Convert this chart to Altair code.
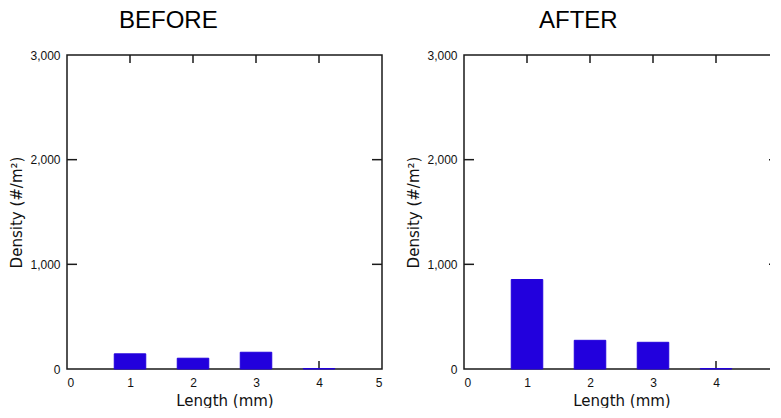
import altair as alt
import pandas as pd

# ---- data ----
lengths = [1, 2, 3, 4]
before_density = [145, 103, 160, 4]
after_density = [855, 274, 255, 4]
panel_titles = ["BEFORE", "AFTER"]
x_tick_values = [0, 1, 2, 3, 4, 5]
x_inner_ticks = [1, 2, 3, 4]
y_tick_values = [0, 1000, 2000, 3000]
y_inner_ticks = [1000, 2000]

W, H = 315, 314
BAR_COLOR = "#2200DD"
LINE_COLOR = "#1a1a1a"
LABEL_FONT = "Liberation Sans"
TITLE_FONT = "DejaVu Sans"

xs = alt.Scale(domain=[0, 5], nice=False, zero=False)
ys = alt.Scale(domain=[0, 3000], nice=False)

x_axis = alt.Axis(
    title="Length (mm)",
    values=x_tick_values,
    format="d",
    tickSize=0,
    domain=False,
    grid=False,
    labelPadding=8,
    titlePadding=5,
    labelFont=LABEL_FONT,
    labelFontSize=12,
    labelColor="#111",
    titleFont=TITLE_FONT,
    titleFontSize=15,
    titleFontWeight="normal",
    titleColor="#111",
)
y_axis = alt.Axis(
    title="Density (#/m²)",
    values=y_tick_values,
    format=",d",
    tickSize=0,
    domain=False,
    grid=False,
    labelPadding=7,
    titlePadding=5,
    labelFont=LABEL_FONT,
    labelFontSize=12,
    labelColor="#111",
    titleFont=TITLE_FONT,
    titleFontSize=15,
    titleFontWeight="normal",
    titleColor="#111",
)


def panel(values, title, dx):
    bars_df = pd.DataFrame({"length": lengths, "density": values})
    xt = pd.DataFrame({"t": x_inner_ticks})
    yt = pd.DataFrame({"t": y_inner_ticks})

    rule = dict(color=LINE_COLOR, strokeWidth=1.5)
    bottom_ticks = alt.Chart(xt).mark_rule(**rule).encode(
        x=alt.X("t:Q", scale=xs, axis=x_axis), y=alt.value(H - 8), y2=alt.value(H)
    )
    top_ticks = alt.Chart(xt).mark_rule(**rule).encode(
        x=alt.X("t:Q", scale=xs, axis=x_axis), y=alt.value(0), y2=alt.value(8)
    )
    left_ticks = alt.Chart(yt).mark_rule(**rule).encode(
        y=alt.Y("t:Q", scale=ys, axis=y_axis), x=alt.value(0), x2=alt.value(10)
    )
    right_ticks = alt.Chart(yt).mark_rule(**rule).encode(
        y=alt.Y("t:Q", scale=ys, axis=y_axis), x=alt.value(W - 10), x2=alt.value(W)
    )
    bars = (
        alt.Chart(bars_df)
        .transform_calculate(lo="datum.length - 0.25", hi="datum.length + 0.25")
        .mark_bar(color=BAR_COLOR, stroke=BAR_COLOR, strokeWidth=1)
        .encode(
            x=alt.X("lo:Q", scale=xs, axis=x_axis),
            x2="hi:Q",
            y=alt.Y("density:Q", scale=ys, axis=y_axis),
            y2=alt.datum(0),
        )
    )
    return alt.layer(bottom_ticks, left_ticks, right_ticks, top_ticks, bars).properties(
        width=W,
        height=H,
        title=alt.TitleParams(
            text=title,
            anchor="start",
            frame="group",
            dx=dx,
            dy=-15,
            offset=-23,
            baseline="bottom",
            font="Liberation Sans",
            fontSize=24,
            fontWeight="normal",
            color="black",
        ),
    )


chart = (
    alt.hconcat(
        panel(before_density, panel_titles[0], 52),
        panel(after_density, panel_titles[1], 75),
        spacing=22,
    )
    .properties(padding={"left": 1, "top": 0, "right": -11, "bottom": -1})
    .configure_view(stroke=LINE_COLOR, strokeWidth=1.5)
)

chart.save("out.html", embed_options={"renderer": "svg", "actions": False})
